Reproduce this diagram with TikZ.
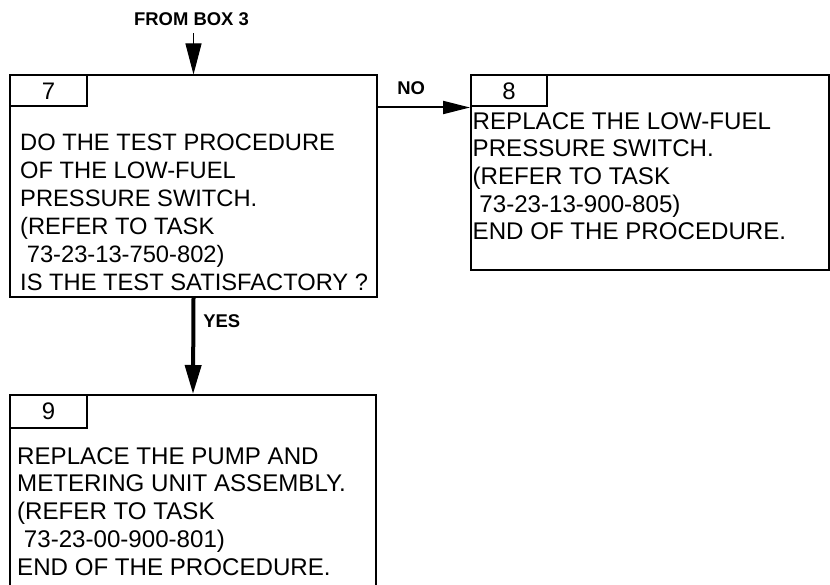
\documentclass[tikz,border=0pt]{standalone}
\usepackage{fontspec}
\setmainfont{Liberation Sans}
\usetikzlibrary{
    arrows.meta,
    positioning
}

\begin{document}
\begin{tikzpicture}[
        x=1bp, y=-1bp,
        box/.style={
            rectangle,
            draw,
            line width=2bp,
            inner sep=0pt,
            anchor=north west
        },
        numbox/.style={
            rectangle,
            draw,
            line width=2bp,
            inner sep=0pt,
            anchor=north west,
            minimum width=77bp,
            minimum height=31bp,
            font=\fontsize{24}{28}\selectfont
        },
        txt/.style={
            anchor=base west,
            inner sep=0pt,
            align=left,
            font=\fontsize{24.2}{27.8}\selectfont
        },
        lbl/.style={
            inner sep=0pt,
            font=\bfseries\fontsize{18.5}{20}\selectfont
        },
        line/.style={
            -{Triangle[length=30bp,width=16bp]},
            line width=2bp
        }
    ]

    \useasboundingbox (0,0) rectangle (830,585);
    \clip (0,0) rectangle (830,585);

    % boxes
    \node[box, minimum width=367bp, minimum height=221.5bp] (b7) at (9,74.5) {};
    \node[box, minimum width=358bp, minimum height=194.5bp] (b8) at (470,74.5) {};
    \node[box, minimum width=366bp, minimum height=250bp] (b9) at (9,394) {};

    \node[numbox] (n7) at (b7.north west) {7};
    \node[numbox, minimum width=76bp] (n8) at (b8.north west) {8};
    \node[numbox, minimum height=33bp] (n9) at (b9.north west) {9};

    % base of a multi-line node = last line
    \node[txt, font=\fontsize{23.8}{28}\selectfont] (t7) at (20,290) {DO THE TEST PROCEDURE\\OF THE LOW-FUEL\\PRESSURE SWITCH.\\(REFER TO TASK\\\hspace*{0.28em}73-23-13-750-802)\\IS THE TEST SATISFACTORY ?};
    \node[txt] (t8) at (472.5,240) {REPLACE THE LOW-FUEL\\PRESSURE SWITCH.\\(REFER TO TASK\\\hspace*{0.28em}73-23-13-900-805)\\END OF THE PROCEDURE.};
    \node[txt] (t9) at (17,575) {REPLACE THE PUMP AND\\METERING UNIT ASSEMBLY.\\(REFER TO TASK\\\hspace*{0.28em}73-23-00-900-801)\\END OF THE PROCEDURE.};

    % connectors
    \node[lbl, anchor=base] (from3) at (191.5,25.5) {FROM BOX 3};
    \coordinate (in3) at ([yshift=41bp]b7.north);
    \draw[line, line width=1bp, -{Triangle[length=31bp,width=16bp]}] (in3) -- (b7.north);

    \draw[line, -{Triangle[length=27bp,width=13bp]}] (b7.east |- n8.south west) -- node[lbl, pos=0.36, above=12bp] {NO} (n8.south west);

    \draw[line, line width=4bp, -{Triangle[length=29bp,width=16bp]}] (b7.south) -- node[lbl, pos=0.245, right=8bp] {YES} (b9.north);

\end{tikzpicture}
\end{document}
